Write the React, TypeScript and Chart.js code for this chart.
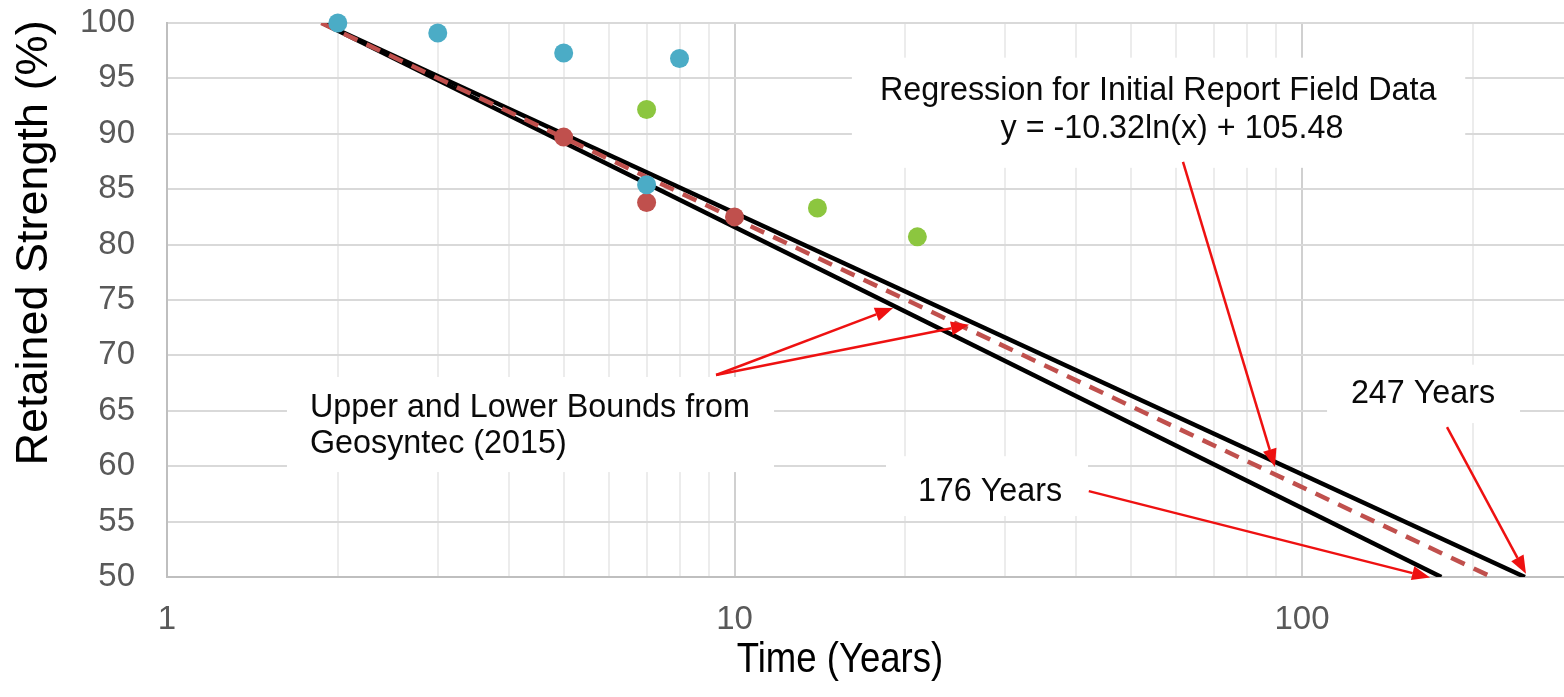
import React, { useEffect, useRef } from "react";
import { Chart, registerables } from "chart.js";

Chart.register(...registerables);

// ---- Data ----
const BLUE_X = [2, 3, 5, 7, 8];
const BLUE_Y = [100, 99.1, 97.3, 85.4, 96.8];
const RED_X = [5, 7, 10];
const RED_Y = [89.7, 83.8, 82.5];
const GREEN_X = [7, 14, 21];
const GREEN_Y = [92.2, 83.3, 80.7];

const UPPER_X = [1.88, 247];
const UPPER_Y = [100, 50];
const LOWER_X = [1.88, 176];
const LOWER_Y = [100, 50];
const REGR_X = [1.87, 216];
const REGR_Y = [100, 50];

const X_TICKS = [1, 2, 3, 4, 5, 6, 7, 8, 9, 10, 20, 30, 40, 50, 60, 70, 80, 90, 100, 200];
const X_LABELED = [1, 10, 100];
const X_MIN = 1;
const X_MAX = 289.5;
const Y_MIN = 50;
const Y_MAX = 100;
const Y_STEP = 5;

const X_TITLE = "Time (Years)";
const Y_TITLE = "Retained Strength (%)";

// ---- Annotations (anchored in data units) ----
const LABEL_BOXES = [
  { x1: 16.1, x2: 193.9, y1: 96.87, y2: 86.93 },
  { x1: 1.627, x2: 11.74, y1: 68.05, y2: 59.47 },
  { x1: 18.49, x2: 41.97, y1: 60.9, y2: 55.5 },
  { x1: 110.7, x2: 242.2, y1: 69.16, y2: 63.89 },
];

const LABEL_TEXTS = [
  { text: "Regression for Initial Report Field Data", x: 55.8, y: 93.07, align: "center" },
  { text: "y = -10.32ln(x) + 105.48", x: 59.0, y: 89.64, align: "center" },
  { text: "Upper and Lower Bounds from", x: 1.786, y: 64.44, align: "left" },
  { text: "Geosyntec (2015)", x: 1.786, y: 61.19, align: "left" },
  { text: "176 Years", x: 28.2, y: 56.88, align: "center" },
  { text: "247 Years", x: 163.4, y: 65.7, align: "center" },
];

const ARROWS = [
  { x1: 9.28, y1: 68.23, x2: 19.03, y2: 74.28 },
  { x1: 9.28, y1: 68.23, x2: 25.9, y2: 72.76 },
  { x1: 61.7, y1: 87.47, x2: 89.6, y2: 59.92 },
  { x1: 42.1, y1: 57.75, x2: 168.1, y2: 49.95 },
  { x1: 180.1, y1: 63.53, x2: 248.1, y2: 50.3 },
];

const FONT = '"Liberation Sans", Arial, sans-serif';

const pts = (xs: number[], ys: number[]) => xs.map((x, i) => ({ x, y: ys[i] }));

function drawArrow(ctx: CanvasRenderingContext2D, x1: number, y1: number, x2: number, y2: number) {
  const ang = Math.atan2(y2 - y1, x2 - x1);
  const L = 18;
  const W = 7;
  const bx = x2 - L * Math.cos(ang);
  const by = y2 - L * Math.sin(ang);
  ctx.beginPath();
  ctx.moveTo(x1, y1);
  ctx.lineTo(bx, by);
  ctx.stroke();
  ctx.beginPath();
  ctx.moveTo(x2, y2);
  ctx.lineTo(bx + W * Math.sin(ang), by - W * Math.cos(ang));
  ctx.lineTo(bx - W * Math.sin(ang), by + W * Math.cos(ang));
  ctx.closePath();
  ctx.fill();
}

const annotationPlugin = {
  id: "annotations",
  beforeDatasetsDraw(chart: any) {
    const { ctx } = chart;
    const xs = chart.scales.x;
    const ys = chart.scales.y;
    ctx.save();
    ctx.fillStyle = "#ffffff";
    for (const b of LABEL_BOXES) {
      const px1 = xs.getPixelForValue(b.x1);
      const px2 = xs.getPixelForValue(b.x2);
      const py1 = ys.getPixelForValue(b.y1);
      const py2 = ys.getPixelForValue(b.y2);
      ctx.fillRect(px1, py1, px2 - px1, py2 - py1);
    }
    ctx.restore();
  },
  afterDatasetsDraw(chart: any) {
    const { ctx } = chart;
    const xs = chart.scales.x;
    const ys = chart.scales.y;
    ctx.save();
    ctx.fillStyle = "#0a0a0a";
    ctx.font = `32.3px ${FONT}`;
    ctx.textBaseline = "alphabetic";
    for (const t of LABEL_TEXTS) {
      ctx.textAlign = t.align as CanvasTextAlign;
      ctx.fillText(t.text, xs.getPixelForValue(t.x), ys.getPixelForValue(t.y));
    }
    ctx.strokeStyle = "#ee1111";
    ctx.fillStyle = "#ee1111";
    ctx.lineWidth = 2.5;
    for (const a of ARROWS) {
      drawArrow(
        ctx,
        xs.getPixelForValue(a.x1),
        ys.getPixelForValue(a.y1),
        xs.getPixelForValue(a.x2),
        ys.getPixelForValue(a.y2)
      );
    }
    ctx.restore();
  },
  afterDraw(chart: any) {
    const { ctx } = chart;
    ctx.save();
    ctx.fillStyle = "#000000";
    ctx.textAlign = "center";
    ctx.textBaseline = "alphabetic";
    // x-axis title
    ctx.save();
    ctx.font = `42px ${FONT}`;
    ctx.translate(840, 672);
    ctx.scale(0.87, 1);
    ctx.fillText(X_TITLE, 0, 0);
    ctx.restore();
    // y-axis title
    ctx.save();
    ctx.font = `45px ${FONT}`;
    ctx.translate(47, 243);
    ctx.rotate(-Math.PI / 2);
    ctx.fillText(Y_TITLE, 0, 0);
    ctx.restore();
    ctx.restore();
  },
};

export default function App() {
  const ref = useRef<HTMLCanvasElement | null>(null);

  useEffect(() => {
    if (!ref.current) return;
    const pointDs = (xs: number[], ys: number[], color: string) => ({
      data: pts(xs, ys),
      showLine: false,
      pointRadius: 9.5,
      pointHoverRadius: 9.5,
      pointBorderWidth: 0,
      pointBackgroundColor: color,
      pointBorderColor: color,
      clip: false,
    });
    const lineDs = (xs: number[], ys: number[], color: string, dash: number[]) => ({
      data: pts(xs, ys),
      showLine: true,
      borderColor: color,
      borderWidth: 4.5,
      borderDash: dash,
      borderCapStyle: "butt",
      pointRadius: 0,
      pointHoverRadius: 0,
      fill: false,
      tension: 0,
    });

    const chart = new Chart(ref.current, {
      type: "scatter",
      data: {
        datasets: [
          pointDs(BLUE_X, BLUE_Y, "#4bacc6"),
          pointDs(RED_X, RED_Y, "#c0504d"),
          pointDs(GREEN_X, GREEN_Y, "#8cc63f"),
          lineDs(REGR_X, REGR_Y, "#c0504d", [15, 10]),
          lineDs(UPPER_X, UPPER_Y, "#000000", []),
          lineDs(LOWER_X, LOWER_Y, "#000000", []),
        ] as any,
      },
      options: {
        responsive: false,
        animation: false,
        events: [],
        layout: { padding: { left: 0, right: 0, top: 23, bottom: 0 }, autoPadding: false },
        plugins: {
          legend: { display: false },
          tooltip: { enabled: false },
          title: { display: false },
        },
        scales: {
          x: {
            type: "logarithmic",
            min: X_MIN,
            max: X_MAX,
            afterBuildTicks: (s: any) => {
              s.ticks = X_TICKS.map((v) => ({ value: v }));
            },
            afterFit: (s: any) => {
              s.height = 120;
              s.paddingLeft = 0;
              s.paddingRight = 0;
            },
            grid: {
              color: (c: any) =>
                c.tick && X_LABELED.includes(c.tick.value) ? "#d0d0d0" : "#ececec",
              lineWidth: 2,
              drawTicks: false,
            },
            border: { color: "#bfbfbf", width: 2 },
            title: { display: false },
            ticks: {
              autoSkip: false,
              maxRotation: 0,
              minRotation: 0,
              padding: 23,
              color: "#595959",
              font: { family: FONT, size: 33 },
              callback: (v: any) => (X_LABELED.includes(Number(v)) ? String(v) : ""),
            },
          },
          y: {
            type: "linear",
            min: Y_MIN,
            max: Y_MAX,
            afterFit: (s: any) => {
              s.width = 167;
              s.paddingTop = 0;
              s.paddingBottom = 0;
            },
            grid: { color: "#d9d9d9", lineWidth: 2, drawTicks: false },
            border: { color: "#bfbfbf", width: 2 },
            title: { display: false },
            ticks: {
              stepSize: Y_STEP,
              padding: 32,
              color: "#595959",
              font: { family: FONT, size: 33 },
            },
          },
        },
      } as any,
      plugins: [annotationPlugin],
    });
    return () => chart.destroy();
  }, []);

  return (
    <div style={{ position: "absolute", left: 0, top: 0, width: 1564, height: 697, background: "#fff" }}>
      <canvas ref={ref} width={1564} height={697} style={{ display: "block" }} />
    </div>
  );
}
